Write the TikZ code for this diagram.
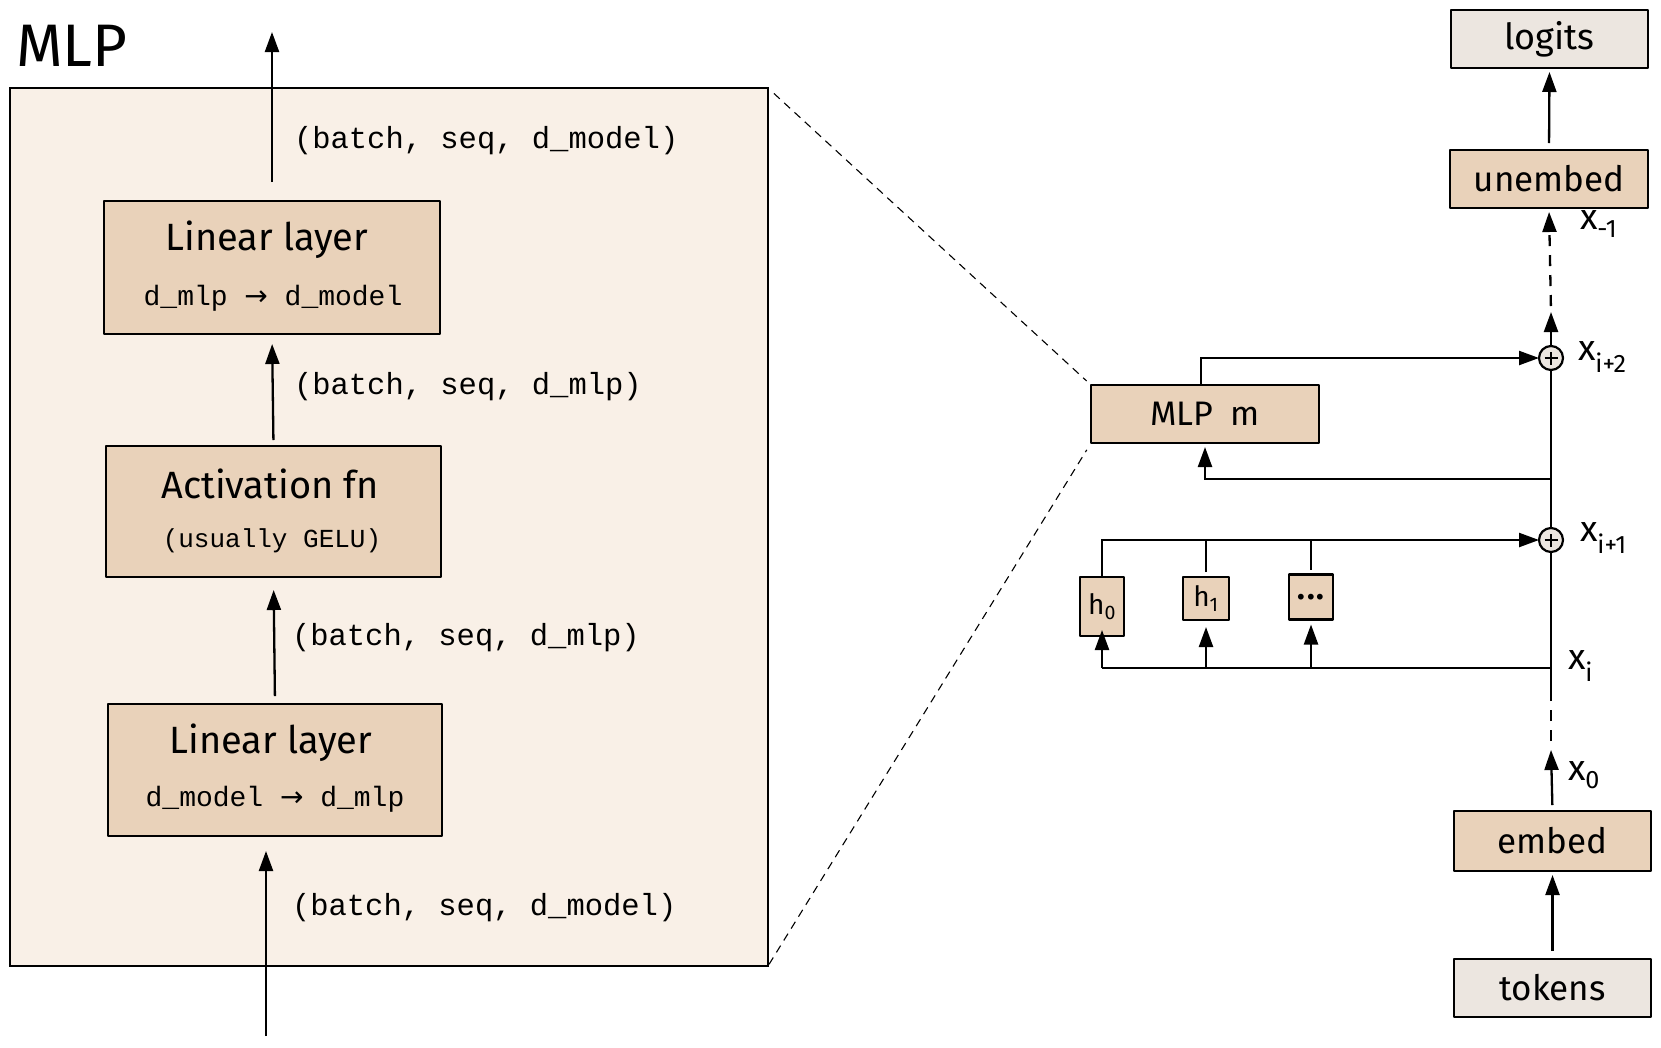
\documentclass[tikz,border=0pt]{standalone}
\usepackage{fontspec}
\setmainfont{Fira Sans}
\newfontfamily\codefont{Liberation Mono}
\newfontfamily\arrowfont{DejaVu Sans}
\usetikzlibrary{arrows.meta}

\definecolor{panelfill}{HTML}{F9F0E7}
\definecolor{boxfill}{HTML}{E9D2BA}
\definecolor{iofill}{HTML}{ECE6E0}

\newcommand\setfs[1]{\fontsize{#1}{#1}\selectfont}
\newcommand\maps{{\arrowfont →}}

\tikzset{
  every node/.style={inner sep=0pt, outer sep=0pt},
  blockbox/.style={draw, line width=2.6pt, fill=boxfill, line join=round},
  iobox/.style={draw, line width=2.6pt, fill=iofill, line join=round},
  panelbox/.style={draw, line width=2.6pt, fill=panelfill},
  arr/.style={line width=2.3pt, -{Triangle[length=20pt,width=14pt]}},
  wire/.style={line width=2.3pt},
  dashwire/.style={line width=2.3pt, dash pattern=on 11pt off 9pt},
  zoomline/.style={line width=1.1pt, dash pattern=on 8pt off 6pt},
  hand/.style={font=\setfs{#1}},
  code/.style={font=\codefont\setfs{#1}},
  shapelabel/.style={code=30.5, anchor=west},
  sublabel/.style={hand=36, anchor=west},
  addnode/.style={circle, draw, line width=2.2pt, fill=iofill, minimum size=24pt,
    path picture={
      \draw[line width=1.9pt]
        ([xshift=-6.5pt]path picture bounding box.center) -- ([xshift=6.5pt]path picture bounding box.center)
        ([yshift=-6.5pt]path picture bounding box.center) -- ([yshift=6.5pt]path picture bounding box.center);
    }},
}

\begin{document}
\begin{tikzpicture}[x=1pt, y=-1pt]
  \useasboundingbox (0,0) rectangle (1661,1047);
  \fill[white] (0,0) rectangle (1661,1047);

  % ---------------- expanded MLP block ----------------
  \node[hand=60] (title) at (72,46) {MLP};
  \node[panelbox, minimum width=758pt, minimum height=878pt] (panel) at (389,527) {};

  \node[blockbox, minimum width=336pt, minimum height=133pt] (lin1) at (272,267.5) {};
  \node[hand=38] (lin1name) at (267,240) {Linear layer};
  \node[code=28] (lin1dims) at (273,298) {d\_mlp \maps{} d\_model};

  \node[blockbox, minimum width=335pt, minimum height=131pt] (act) at (273.5,511.5) {};
  \node[hand=38] (actname) at (270,484) {Activation fn};
  \node[code=26] (actnote) at (272,541) {(usually GELU)};

  \node[blockbox, minimum width=334pt, minimum height=132pt] (lin2) at (275,770) {};
  \node[hand=38] (lin2name) at (271,743) {Linear layer};
  \node[code=28] (lin2dims) at (275,799) {d\_model \maps{} d\_mlp};

  \coordinate (mlpout) at (272,32);
  \coordinate (mlpin) at (266,1036);

  \draw[arr, shorten <=19pt] (lin1.north) -- (mlpout);
  \draw[arr, shorten <=6pt, shorten >=10pt] (act.north) -- (lin1.south);
  \draw[arr, shorten <=8pt, shorten >=13pt] (lin2.north) -- (act.south);
  \draw[arr, shorten >=15pt] (mlpin) -- (mlpin |- lin2.south);

  \node[shapelabel] (shape4) at (294,141) {(batch, seq, d\_model)};
  \node[shapelabel] (shape3) at (294,387) {(batch, seq, d\_mlp)};
  \node[shapelabel] (shape2) at (292,638) {(batch, seq, d\_mlp)};
  \node[shapelabel] (shape1) at (292,908) {(batch, seq, d\_model)};

  % ---------------- transformer overview ----------------
  \node[iobox, minimum width=197pt, minimum height=58pt, hand=36] (logits) at (1549.5,39) {logits};
  \node[blockbox, minimum width=198pt, minimum height=58pt, hand=35] (unembed) at (1549,179) {unembed};
  \node[blockbox, minimum width=228pt, minimum height=58pt, hand=34] (mlpm) at (1205,414) {MLP\hspace{0.5em}m};
  \node[blockbox, minimum width=44pt, minimum height=59pt, hand=28] (h0) at (1102,606.5) {h\textsubscript{0}};
  \node[blockbox, minimum width=46pt, minimum height=43pt, hand=28] (h1) at (1206,598.5) {h\textsubscript{1}};
  \node[blockbox, minimum width=44pt, minimum height=45pt, hand=32] (hdots) at (1311,597) {\bfseries .\kern1.5pt.\kern1.5pt.};
  \node[blockbox, minimum width=197pt, minimum height=60pt, hand=35] (embed) at (1552.5,841) {embed};
  \node[iobox, minimum width=197pt, minimum height=58pt, hand=35] (tokens) at (1552.5,988) {tokens};

  \node[addnode] (add2) at (1551,358) {};
  \node[addnode] (add1) at (1551,540) {};

  \coordinate (up2) at (1551,312);
  \coordinate (tapmlp) at (1551,479);
  \coordinate (tapx) at (1551,668);
  \coordinate (gapend) at (1551,700);
  \coordinate (x0tip) at (1551,750);

  % residual stream
  \draw[arr, shorten <=7pt, shorten >=4pt] (unembed.north) -- (logits.south);
  \draw[arr] (add2.north) -- (up2);
  \draw[dashwire, -{Triangle[length=20pt,width=14pt]}, shorten <=6pt, shorten >=4pt] (up2) -- (unembed.south);
  \draw[wire] (add1.north) -- (add2.south);
  \draw[wire] (gapend) -- (tapx) -- (add1.south);
  \draw[dashwire, shorten <=9pt] (x0tip) -- (gapend);
  \draw[arr, shorten <=6pt] (embed.north) -- (x0tip);
  \draw[arr, shorten <=8pt, shorten >=4pt] (tokens.north) -- (embed.south);

  % MLP branch
  \draw[arr] ([xshift=-4pt]mlpm.north) |- (add2.west);
  \draw[arr, shorten >=4pt] (tapmlp) -| (mlpm.south);

  % attention heads
  \draw[arr] (h0.north) |- (add1.west);
  \draw[wire, shorten <=5pt] (h1.north) -- (h1.north |- add1);
  \draw[wire, shorten <=5pt] (hdots.north) -- (hdots.north |- add1);
  \draw[wire] (tapx) -- (tapx -| h0);
  \draw[arr, shorten >=-6pt] (tapx -| h0) -- (h0.south);
  \draw[arr, shorten >=7pt] (tapx -| h1) -- (h1.south);
  \draw[arr, shorten >=5pt] (tapx -| hdots) -- (hdots.south);

  % stream labels
  \node[sublabel] (lxlast) at (1580,224) {x\textsubscript{-1}};
  \node[sublabel] (lxi2) at (1578,357) {x\textsubscript{i+2}};
  \node[sublabel] (lxi1) at (1580,538) {x\textsubscript{i+1}};
  \node[sublabel] (lxi) at (1568,666) {x\textsubscript{i}};
  \node[sublabel] (lx0) at (1568,775) {x\textsubscript{0}};

  % zoom guides from the MLP block to its detail panel
  \draw[zoomline, shorten <=8pt, shorten >=6pt] (panel.north east) -- (mlpm.north west);
  \draw[zoomline, shorten <=2pt, shorten >=8pt] (panel.south east) -- (mlpm.south west);
\end{tikzpicture}
\end{document}
